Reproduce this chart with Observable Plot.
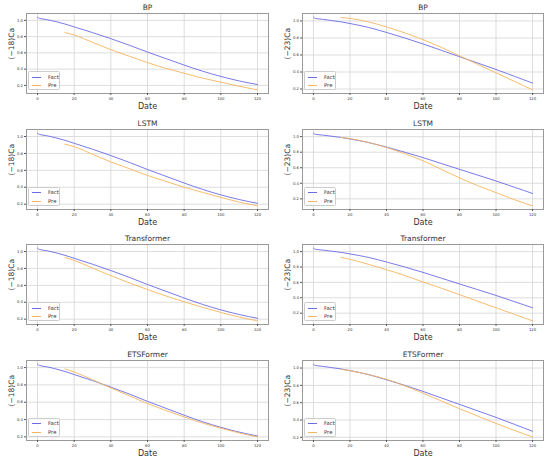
<!DOCTYPE html>
<html>
<head>
<meta charset="utf-8">
<script src="https://cdn.jsdelivr.net/npm/d3@7"></script>
<script src="https://cdn.jsdelivr.net/npm/@observablehq/plot@0.6"></script>
<style>
  html, body { margin: 0; padding: 0; background: white; }
  #root { position: relative; width: 550px; height: 461px; overflow: hidden; font-family: "DejaVu Sans", sans-serif; }
  .panel { position: absolute; }
  .legend { position: absolute; width: 32px; height: 19px; background: rgba(255,255,255,0.85); border: 0.5px solid #ccc; border-radius: 1.5px; box-sizing: border-box; font-size: 5.3px; color: #333; }
  .legend .row { position: absolute; left: 0; height: 6px; width: 100%; }
  .legend .sw { position: absolute; left: 2.5px; top: 2.5px; width: 9px; height: 0; border-top: 1.2px solid; }
  .legend .lab { position: absolute; left: 19px; top: -0.3px; line-height: 6px; }
  svg text { font-weight: normal; }
</style>
</head>
<body>
<div id="root"></div>
<script>
// ---- data ----
const models = ["BP", "LSTM", "Transformer", "ETSFormer"];
const yLabels = ["(−18)Ca", "(−23)Ca"];
const seriesNames = ["Fact", "Pre"];
const xTicks = [0, 20, 40, 60, 80, 100, 120];
const yTicks = [0.2, 0.4, 0.6, 0.8, 1.0];

const factX = [0, 1, 5, 10, 15, 20, 30, 40, 50, 60, 70, 80, 90, 100, 110, 120];
const fact18 = [1.04, 1.025, 1.01, 0.985, 0.955, 0.92, 0.85, 0.775, 0.695, 0.61, 0.53, 0.45, 0.375, 0.31, 0.255, 0.21];
const fact23 = [1.045, 1.03, 1.02, 1.005, 0.99, 0.97, 0.925, 0.865, 0.80, 0.73, 0.655, 0.58, 0.505, 0.43, 0.35, 0.27];

const preX = [15, 20, 30, 40, 50, 60, 70, 80, 90, 100, 110, 120];
const bp18 = [0.85, 0.82, 0.73, 0.64, 0.56, 0.48, 0.41, 0.35, 0.29, 0.24, 0.19, 0.145];
const bp23 = [1.04, 1.03, 0.99, 0.93, 0.86, 0.78, 0.69, 0.59, 0.49, 0.39, 0.29, 0.19];
const lstm18 = [0.91, 0.88, 0.79, 0.70, 0.62, 0.54, 0.47, 0.40, 0.34, 0.28, 0.225, 0.18];
const lstm23 = [0.99, 0.975, 0.925, 0.86, 0.78, 0.69, 0.58, 0.47, 0.37, 0.28, 0.19, 0.11];
const trans18 = [0.93, 0.895, 0.805, 0.715, 0.63, 0.55, 0.475, 0.405, 0.34, 0.28, 0.225, 0.18];
const trans23 = [0.925, 0.90, 0.835, 0.765, 0.69, 0.605, 0.525, 0.44, 0.355, 0.27, 0.185, 0.10];
const ets18 = [0.985, 0.95, 0.86, 0.765, 0.675, 0.585, 0.505, 0.43, 0.36, 0.30, 0.245, 0.20];
const ets23 = [0.985, 0.97, 0.925, 0.87, 0.795, 0.71, 0.62, 0.53, 0.445, 0.36, 0.28, 0.205];

const preByModel = [[bp18, bp23], [lstm18, lstm23], [trans18, trans23], [ets18, ets23]];
const factByCol = [fact18, fact23];

const colors = ["#6b6be6", "#f6b45c"];

// ---- drawing ----
const root = document.getElementById("root");
const PW = 275, PH = 115, ROWSTEP = 115.5;

function makePanel(row, col) {
  const fact = factX.map((x, i) => ({x, y: factByCol[col][i]}));
  const pre = preX.map((x, i) => ({x, y: preByModel[row][col][i]}));
  const ys = [...fact, ...pre].map(d => d.y);
  const lo = d3.min(ys), hi = d3.max(ys), pad = (hi - lo) * 0.05;
  const mL = col === 0 ? 26 : 27;
  const svg = Plot.plot({
    width: PW, height: PH,
    marginLeft: mL, marginRight: 7, marginTop: 13, marginBottom: 22,
    style: {fontFamily: "DejaVu Sans, sans-serif", background: "transparent", overflow: "visible", color: "#333"},
    x: {domain: [-6, 126]},
    y: {domain: [lo - pad, hi + pad]},
    marks: [
      Plot.gridX(xTicks, {stroke: "#d4d4d4", strokeOpacity: 1, strokeWidth: 0.8}),
      Plot.gridY(yTicks, {stroke: "#d4d4d4", strokeOpacity: 1, strokeWidth: 0.8}),
      Plot.frame({stroke: "#9a9a9a", strokeWidth: 1}),
      Plot.axisX(xTicks, {tickSize: 2, tickPadding: 1.5, fontSize: 3.8, label: null, tickFormat: d => String(d), stroke: "#555"}),
      Plot.axisY(yTicks, {tickSize: 2, tickPadding: 1.5, fontSize: 3.8, label: null, tickFormat: d3.format(".1f"), stroke: "#555"}),
      Plot.line(fact, {x: "x", y: "y", stroke: colors[0], strokeWidth: 0.9, curve: "monotone-x"}),
      Plot.line(pre, {x: "x", y: "y", stroke: colors[1], strokeWidth: 0.9, curve: "monotone-x"}),
      Plot.text([models[row]], {text: d => d, frameAnchor: "top", dy: -6, lineAnchor: "middle", fontSize: 7.5, fontWeight: "normal", fill: "#333"}),
      Plot.text(["Date"], {text: d => d, frameAnchor: "bottom", dy: 12.5, lineAnchor: "middle", fontSize: 8, fontWeight: "normal", fill: "#333"}),
      Plot.text([yLabels[col]], {text: d => d, frameAnchor: "left", dx: -15, dy: 6, rotate: -90, lineAnchor: "middle", fontSize: 7.5, fontWeight: "normal", fill: "#333"})
    ]
  });
  const wrap = document.createElement("div");
  wrap.className = "panel";
  wrap.style.left = (col * PW) + "px";
  wrap.style.top = (row * ROWSTEP) + "px";
  wrap.appendChild(svg);
  // legend
  const lg = document.createElement("div");
  lg.className = "legend";
  lg.style.left = (mL + 2) + "px";
  lg.style.top = "71px";
  seriesNames.forEach((name, i) => {
    const r = document.createElement("div");
    r.className = "row";
    r.style.top = (2 + i * 8.5) + "px";
    const sw = document.createElement("div");
    sw.className = "sw";
    sw.style.borderTopColor = colors[i];
    const lab = document.createElement("div");
    lab.className = "lab";
    lab.textContent = name;
    r.appendChild(sw); r.appendChild(lab);
    lg.appendChild(r);
  });
  wrap.appendChild(lg);
  root.appendChild(wrap);
}

for (let r = 0; r < models.length; r++) for (let c = 0; c < 2; c++) makePanel(r, c);
</script>
</body>
</html>
